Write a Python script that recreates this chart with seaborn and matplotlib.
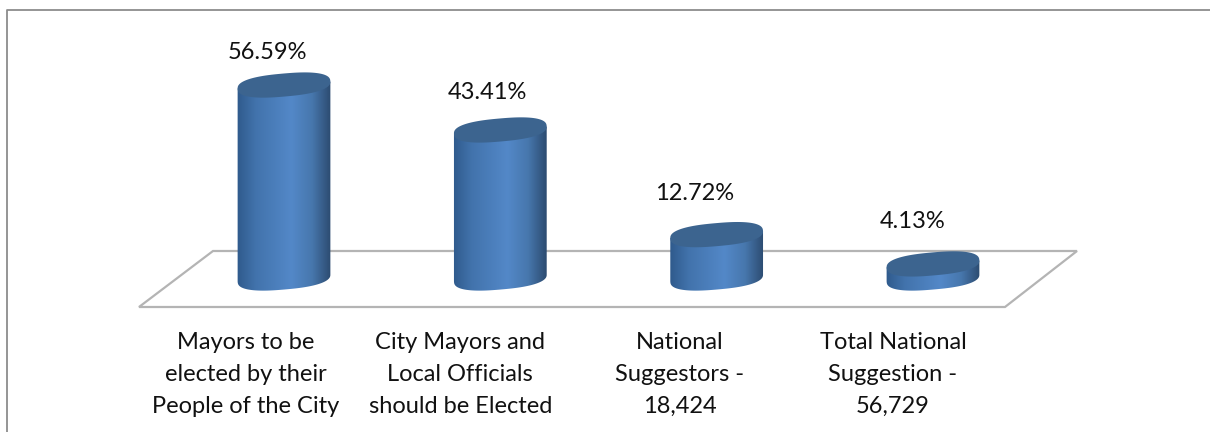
import numpy as np
import pandas as pd
import matplotlib
matplotlib.use('Agg')
import matplotlib.pyplot as plt
import seaborn as sns
from matplotlib.colors import LinearSegmentedColormap
from matplotlib.patches import Polygon
from matplotlib.path import Path
from matplotlib.transforms import Affine2D, ScaledTranslation, IdentityTransform

categories = ['Mayors to be\nelected by their\nPeople of the City',
              'City Mayors and\nLocal Officials\nshould be Elected',
              'National\nSuggestors -\n18,424',
              'Total National\nSuggestion -\n56,729']
values = [56.59, 43.41, 12.72, 4.13]
value_labels = ['56.59%', '43.41%', '12.72%', '4.13%']

# label nudges in pixels, the chart puts them left of the bars
label_dx = [-17, -13, -22, -20]
label_dy = [33, 37, 41, 42]
tick_dx = [-38, -40, -37, -40]

W, H = 1210, 432
sns.set_theme(style='white')
plt.rcParams['font.family'] = ['Lato', 'DejaVu Sans']

df = pd.DataFrame({'category': categories, 'value': values})

fig = plt.figure(figsize=(W / 100, H / 100), dpi=100)
base_px = 278
axis_px = 322
px_per_unit = 3.41
ax = fig.add_axes([0, (H - axis_px) / H, 1, axis_px / H])
sns.barplot(data=df, x='category', y='value', width=92 / 216.33, color='#4a7cb8', ax=ax)
ax.set_xlim(-284 / 216.33, (W - 284) / 216.33)
ax.set_ylim(-(axis_px - base_px) / px_per_unit, base_px / px_per_unit)
ax.set_xlabel('')
ax.set_ylabel('')
ax.set_yticks([])
ax.tick_params(axis='x', length=0, pad=7)
sns.despine(ax=ax, left=True, bottom=True, top=True, right=True)
ax.patch.set_alpha(0)

# tick labels sit left of the bars too
for lab, dx in zip(ax.get_xticklabels(), tick_dx):
    lab.set_fontsize(17)
    lab.set_color('#111111')
    lab.set_linespacing(1.65)
    lab.set_transform(lab.get_transform() + ScaledTranslation(dx / 100, 0, fig.dpi_scale_trans))

# outer frame and floor, in image pixels
to_px = Affine2D().scale(1, -1).translate(0, H)
fig.add_artist(plt.Line2D([7, 7, 1210], [432, 9.5, 9.5], transform=to_px, color='#8c8c8c', lw=1.3))
floor = Polygon([(139, 307), (1005, 307), (1077, 251), (213, 251)], closed=True, fill=False,
                edgecolor='#b4b4b4', lw=1.6, transform=to_px, zorder=0.5)
ax.add_patch(floor)

cmap = LinearSegmentedColormap.from_list('cyl', [(0, '#2f5a8c'), (0.2, '#4273ac'), (0.58, '#5388c8'),
                                                 (0.8, '#4777ad'), (1, '#2c4b70')])
grad = np.linspace(0, 1, 256).reshape(1, -1)


def ellipse(cx, cy, a=46.5, b=11.5, tilt=np.radians(5), n=200, p=0.8):
    t = np.linspace(0, 2 * np.pi, n, endpoint=False)
    # slightly blunt ends, like the original's rough ovals
    u = np.sign(np.cos(t)) * np.abs(np.cos(t)) ** p
    v = np.sign(np.sin(t)) * np.abs(np.sin(t)) ** p
    x = cx + a * u * np.cos(tilt) - b * v * np.sin(tilt)
    y = cy + a * u * np.sin(tilt) + b * v * np.cos(tilt)
    return np.column_stack([x, y])


fig.canvas.draw()
for bar, val, txt, dx, dy in zip(ax.patches, values, value_labels, label_dx, label_dy):
    bar.set_visible(False)
    x0 = bar.get_x()
    x1 = x0 + bar.get_width()
    (l, b0), (r, b1) = ax.transData.transform([(x0, 0), (x1, val)])
    cx = (l + r) / 2
    bottom = ellipse(cx, b0)
    top = ellipse(cx, b1)
    lo = bottom[np.argmin(bottom[:, 0])]
    hi = bottom[np.argmax(bottom[:, 0])]
    il, ir = np.argmin(bottom[:, 0]), np.argmax(bottom[:, 0])
    # lower arc of the base, from right extreme round to the left one
    arc = bottom[min(il, ir):max(il, ir) + 1]
    if arc[len(arc) // 2, 1] > (lo[1] + hi[1]) / 2:
        arc = np.vstack([bottom[max(il, ir):], bottom[:min(il, ir) + 1]])
    if arc[0, 0] > arc[-1, 0]:
        arc = arc[::-1]
    tl = top[np.argmin(top[:, 0])]
    tr = top[np.argmax(top[:, 0])]
    body = np.vstack([arc, tr, tl])
    im = ax.imshow(grad, cmap=cmap, aspect='auto', transform=IdentityTransform(),
                   extent=(l - 1, r + 1, b0 - 14, b1 + 14), zorder=2, interpolation='bilinear')
    im.set_clip_path(Path(np.vstack([body, body[0]])), IdentityTransform())
    ax.add_patch(Polygon(top, closed=True, facecolor='#3c648f', edgecolor='none',
                         transform=IdentityTransform(), zorder=3))
    ax.annotate(txt, xy=(bar.get_x() + bar.get_width() / 2, val), xytext=(dx, dy),
                xycoords='data', textcoords='offset pixels', ha='center', va='center',
                fontsize=17, color='#111111')

ax.set_xlim(-284 / 216.33, (W - 284) / 216.33)
ax.set_ylim(-(axis_px - base_px) / px_per_unit, base_px / px_per_unit)
fig.savefig('out.png', dpi=100, facecolor='white')
